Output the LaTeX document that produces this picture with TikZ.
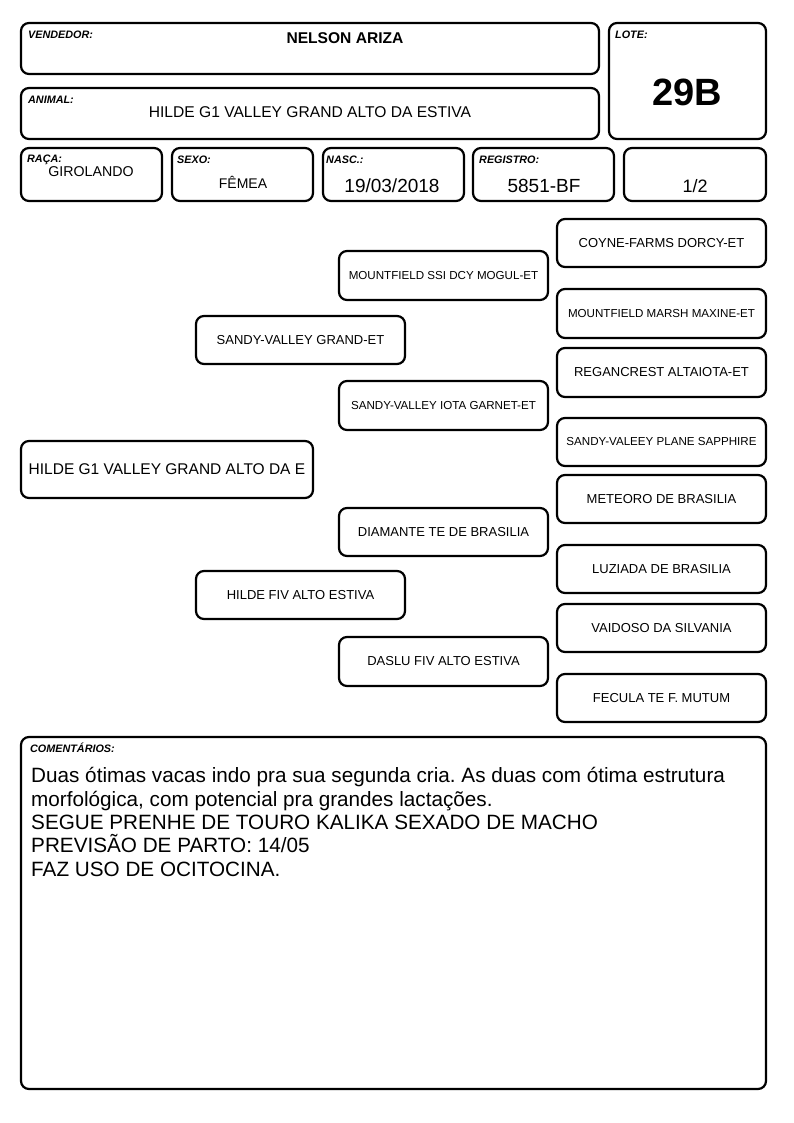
\documentclass[tikz,border=0pt]{standalone}
\usepackage{fontspec}
\setmainfont{Liberation Sans}
\frenchspacing
\tikzset{
  box/.style={draw, line width=2.2pt, rounded corners=8pt, inner sep=0pt, align=center},
  lbl/.style={anchor=base west, inner sep=0pt, font=\fontsize{10.8}{12}\selectfont\bfseries\itshape},
  val/.style={anchor=base, inner sep=0pt},
  ped/.style={box, font=\fontsize{13}{14}\selectfont},
  peds/.style={box, font=\fontsize{11.6}{13}\selectfont},
  com/.style={anchor=base west, inner sep=0pt, font=\fontsize{20.7}{23}\selectfont},
}
\newcommand\bx[6][box]{\node[#1, minimum width={#4-#2}, minimum height={#5-#3}] (#6) at ({(#2+#4)/2},{(#3+#5)/2})}
\begin{document}
\begin{tikzpicture}[x=1pt,y=-1pt]
\useasboundingbox (0,0) rectangle (794,1123);
% header
\bx{21}{23}{599}{74}{vend} {};
\bx{21}{88}{599}{139}{anim} {};
\bx{609}{23}{766}{139}{lote} {};
\bx{21}{148}{162}{201}{raca} {};
\bx{172}{148}{313}{201}{sexo} {};
\bx{323}{148}{464}{201}{nasc} {};
\bx{473}{148}{614}{201}{reg} {};
\bx{624}{148}{766}{201}{frac} {};
\node[lbl] (lvend) at (28,39) {VENDEDOR:};
\node[lbl] (lanim) at (28,104) {ANIMAL:};
\node[lbl] (llote) at (615,39) {LOTE:};
\node[lbl] (lraca) at (27,163) {RAÇA:};
\node[lbl] (lsexo) at (177,164) {SEXO:};
\node[lbl] (lnasc) at (326,164) {NASC.:};
\node[lbl] (lreg) at (479,164) {REGISTRO:};
\node[val, font=\fontsize{15.6}{18}\selectfont\bfseries] (tvend) at (345,44) {NELSON ARIZA};
\node[val, font=\fontsize{15.6}{18}\selectfont] (tanim) at (310,118) {HILDE G1 VALLEY GRAND ALTO DA ESTIVA};
\node[val, font=\fontsize{38}{40}\selectfont\bfseries] (tlote) at (687,106) {29B};
\node[val, font=\fontsize{14.2}{16}\selectfont] (traca) at (91,177) {GIROLANDO};
\node[val, font=\fontsize{14}{16}\selectfont] (tsexo) at (243,189) {FÊMEA};
\node[val, font=\fontsize{19}{20}\selectfont] (tnasc) at (392,193) {19/03/2018};
\node[val, font=\fontsize{19}{20}\selectfont] (treg) at (544,193) {5851-BF};
\node[val, font=\fontsize{18}{20}\selectfont] (tfrac) at (695,193) {1/2};
% pedigree
\bx[box, font=\fontsize{15.5}{18}\selectfont]{21}{441}{313}{498}{main} {HILDE G1 VALLEY GRAND ALTO DA E};
\bx[ped]{196}{316}{405}{364}{p} {SANDY-VALLEY GRAND-ET};
\bx[ped]{196}{571}{405}{619}{m} {HILDE FIV ALTO ESTIVA};
\bx[peds]{339}{251}{548}{300}{pp} {MOUNTFIELD SSI DCY MOGUL-ET};
\bx[peds]{339}{381}{548}{430}{pm} {SANDY-VALLEY IOTA GARNET-ET};
\bx[ped]{339}{508}{548}{556}{mp} {DIAMANTE TE DE BRASILIA};
\bx[ped]{339}{637}{548}{686}{mm} {DASLU FIV ALTO ESTIVA};
\bx[ped]{557}{219}{766}{267}{ppp} {COYNE-FARMS DORCY-ET};
\bx[peds]{557}{289}{766}{338}{ppm} {MOUNTFIELD MARSH MAXINE-ET};
\bx[ped]{557}{348}{766}{397}{pmp} {REGANCREST ALTAIOTA-ET};
\bx[peds]{557}{418}{766}{466}{pmm} {SANDY-VALEEY PLANE SAPPHIRE};
\bx[ped]{557}{475}{766}{523}{mpp} {METEORO DE BRASILIA};
\bx[ped]{557}{545}{766}{593}{mpm} {LUZIADA DE BRASILIA};
\bx[ped]{557}{604}{766}{652}{mmp} {VAIDOSO DA SILVANIA};
\bx[ped]{557}{674}{766}{722}{mmm} {FECULA TE F. MUTUM};
% comments
\bx{21}{737}{766}{1089}{coment} {};
\node[lbl] (lcom) at (30,752) {COMENTÁRIOS:};
\node[com] (c1) at (31,782) {Duas ótimas vacas indo pra sua segunda cria. As duas com ótima estrutura};
\node[com] (c2) at (31,806) {morfológica, com potencial pra grandes lactações.};
\node[com] (c3) at (31,829) {SEGUE PRENHE DE TOURO KALIKA SEXADO DE MACHO};
\node[com] (c4) at (31,852) {PREVISÃO DE PARTO: 14/05};
\node[com] (c5) at (31,876) {FAZ USO DE OCITOCINA.};
\end{tikzpicture}
\end{document}
